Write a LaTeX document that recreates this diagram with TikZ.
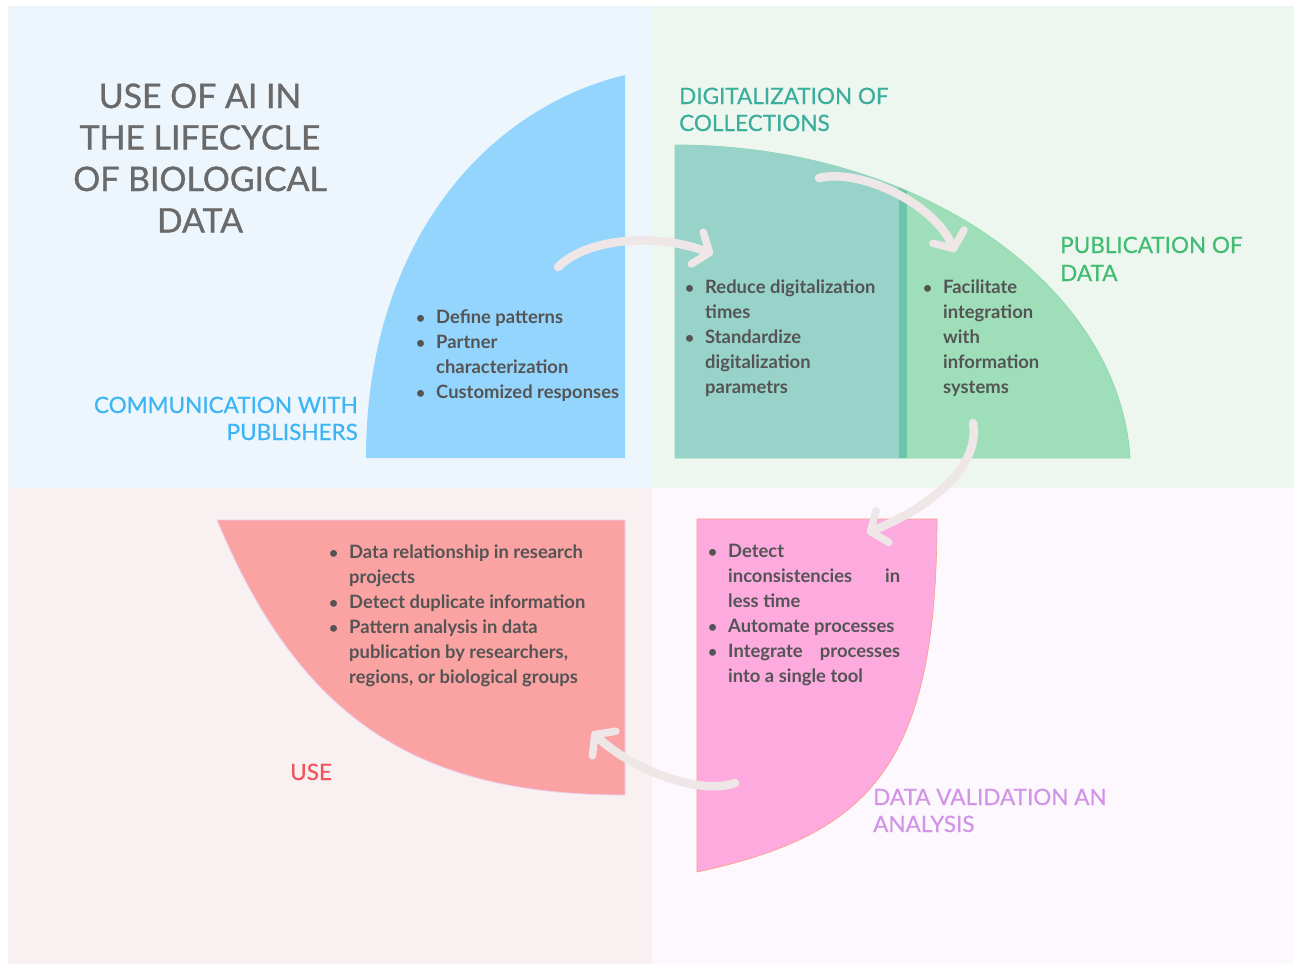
\documentclass[tikz,border=0pt]{standalone}
\usepackage{fontspec}
\setmainfont{Lato}
\newfontfamily\labelfont[FakeBold=0.5]{Lato}
\newfontfamily\titlefont[FakeBold=1.0]{Lato}
\usetikzlibrary{arrows.meta}
\definecolor{bgTL}{HTML}{EEF6FD}
\definecolor{bgTR}{HTML}{EDF6EF}
\definecolor{bgBL}{HTML}{F9F0F1}
\definecolor{bgBR}{HTML}{FDF8FD}
\definecolor{blueq}{HTML}{94D5FD}
\definecolor{tealq}{HTML}{98D3C9}
\definecolor{greenq}{HTML}{9EDEB9}
\definecolor{divq}{HTML}{6DC4AB}
\definecolor{useq}{HTML}{FBA3A3}
\definecolor{valq}{HTML}{FDAADF}
\definecolor{arrowc}{HTML}{EEE6E7}
\definecolor{txtc}{HTML}{545454}
\definecolor{titlec}{HTML}{6A6A6A}
\definecolor{commc}{HTML}{3DB5F4}
\definecolor{digic}{HTML}{3AAD9B}
\definecolor{pubc}{HTML}{40BD72}
\definecolor{usec}{HTML}{F2545B}
\definecolor{valc}{HTML}{D294E6}
\newcommand\bul{\makebox[0pt][r]{\scalebox{0.85}{\textbullet}\hspace{11pt}}}
\newcommand\blines[4]{%
  \foreach \t [count=\i from 0] in {#4}
    \node[btext, anchor=base west] (#1\i) at ({#2},{#3+25*\i}) {\t};}
\tikzset{
  btext/.style={inner sep=0pt, text=txtc, font=\fontsize{18.4}{25}\selectfont\bfseries},
  ttext/.style={inner sep=0pt, text=titlec, font=\fontsize{33.8}{42}\titlefont},
  ltext/.style={inner sep=0pt, font=\fontsize{22.5}{27}\labelfont},
  flow/.style={draw=arrowc, line width=8.5pt, line cap=round,
    -{Straight Barb[length=13pt, width=34pt, line width=7.5pt, round]}}
}
\begin{document}
\begin{tikzpicture}[x=1pt,y=-1pt]
\useasboundingbox (0,0) rectangle (1294,964);
\fill[white] (0,0) rectangle (1294,964);
% quadrant backgrounds
\fill[bgTL] (8,6) rectangle (652,488);
\fill[bgTR] (652,6) rectangle (1294,488);
\fill[bgBL] (8,488) rectangle (652,964);
\fill[bgBR] (652,488) rectangle (1294,964);

% blue quarter (communication)
\fill[blueq] (625,75) -- (625,458) -- (366,458)
  .. controls (366,250) and (480,110) .. (625,75) -- cycle;

% green quarter (digitalization + publication)
\fill[greenq, draw=greenq!85!pubc, line width=0.8pt] (675,145) .. controls (925,145) and (1120,290) .. (1130,458)
  -- (675,458) -- cycle;
\begin{scope}
  \clip (675,145) .. controls (925,145) and (1120,290) .. (1130,458) -- (675,458) -- cycle;
  \fill[tealq] (670,140) rectangle (899,460);
  \fill[divq] (899,140) rectangle (907,460);
\end{scope}

% use quarter
\fill[useq, draw=valc!45, line width=0.8pt] (217,520) -- (625,520) -- (625,795)
  .. controls (420,795) and (301,722) .. (217,520) -- cycle;

% validation quarter
\fill[valq, draw=useq!80!orange, line width=0.6pt] (697,519) -- (937,519)
  .. controls (937,765) and (870,835) .. (697,872) -- cycle;

% title
\foreach \t/\y [count=\i] in {USE OF AI IN/108, THE LIFECYCLE/149.5, OF BIOLOGICAL/191, DATA/232.5}
  \node[ttext, anchor=base] (title\i) at (200,\y) {\t};

% section labels
\node[ltext, text=digic, anchor=base west] (digi1) at (679,104) {DIGITALIZATION OF};
\node[ltext, text=digic, anchor=base west] (digi2) at (679,131) {COLLECTIONS};
\node[ltext, text=pubc, anchor=base west] (pub1) at (1060,253) {PUBLICATION OF};
\node[ltext, text=pubc, anchor=base west] (pub2) at (1060,281) {DATA};
\node[ltext, text=commc, anchor=base east] (comm1) at (358,413) {COMMUNICATION WITH};
\node[ltext, text=commc, anchor=base east] (comm2) at (358,440) {PUBLISHERS};
\node[ltext, text=usec, anchor=base west] (use1) at (290,780) {USE};
\node[ltext, text=valc, anchor=base west] (val1) at (873,805) {DATA VALIDATION AN};
\node[ltext, text=valc, anchor=base west] (val2) at (873,832) {ANALYSIS};

% bullet texts
\blines{cb}{436}{323}{\bul Define patterns, \bul Partner, characterization, \bul Customized responses}
\blines{db}{705}{293}{\bul Reduce digitalization, times, \bul Standardize, digitalization, parametrs}
\blines{pb}{943}{293}{\bul Facilitate, integration, with, information, systems}
\blines{ub}{349}{558}{\bul Data relationship in research, projects, \bul Detect duplicate information, \bul Pattern analysis in data, {publication by researchers,}, {regions, or biological groups}}
\blines{vb}{728}{557}{\bul Detect, \makebox[172pt][s]{inconsistencies in}, less time, \bul Automate processes, \bul \makebox[172pt][s]{Integrate processes}, into a single tool}

% flow arrows
\coordinate (a1s) at (558,267); \coordinate (a1e) at (713,254);
\coordinate (a2s) at (819,178); \coordinate (a2e) at (955,252);
\coordinate (a3s) at (973,423); \coordinate (a3e) at (867,533);
\coordinate (a4s) at (735,783); \coordinate (a4e) at (592,732);
\draw[flow] (a1s) .. controls (590,236) and (660,234) .. (a1e);
\draw[flow] (a2s) .. controls (862,168) and (935,205) .. (a2e);
\draw[flow] (a3s) .. controls (980,465) and (935,505) .. (a3e);
\draw[flow] (a4s) .. controls (698,796) and (630,768) .. (a4e);
\end{tikzpicture}
\end{document}
